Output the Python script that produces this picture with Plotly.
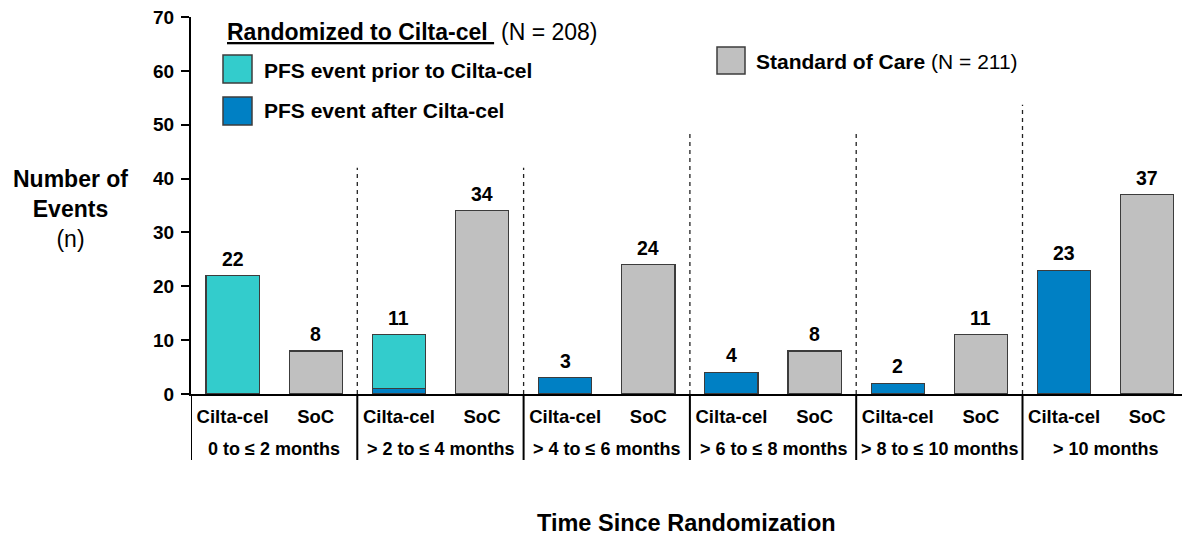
import plotly.graph_objects as go

# ---------------- data ----------------
groups = ["0 to ≤ 2 months", "> 2 to ≤ 4 months", "> 4 to ≤ 6 months",
          "> 6 to ≤ 8 months", "> 8 to ≤ 10 months", "> 10 months"]
arms = ["Cilta-cel", "SoC"]
cilta_prior = [22, 10, 0, 0, 0, 0]    # PFS event prior to Cilta-cel
cilta_after = [0, 1, 3, 4, 2, 23]     # PFS event after Cilta-cel
soc = [8, 34, 24, 8, 11, 37]          # Standard of Care
y_ticks = [0, 10, 20, 30, 40, 50, 60, 70]

# ---------------- style ----------------
TURQ = "#33CCCC"
BLUE = "#0080C4"
GRAY = "#C0C0C0"
EDGE = "#3C3C3C"
FONT = "Liberation Sans, Arial, sans-serif"

W, H = 1182, 540
L, R, T, B = 191, 0, 17, 146
PW, PH = W - L - R, H - T - B


def px(x):
    return (x - L) / PW


def py(y):
    return (H - B - y) / PH


n = len(groups)
cx = [2 * i for i in range(n)]
sx = [2 * i + 1 for i in range(n)]
cilta_total = [a + b for a, b in zip(cilta_prior, cilta_after)]


def nz(xs, vs):
    pairs = [(x, v) for x, v in zip(xs, vs) if v > 0]
    return [p[0] for p in pairs], [p[1] for p in pairs]


fig = go.Figure()
bw = 0.64
x_a, v_a = nz(cx, cilta_after)
fig.add_trace(go.Bar(x=x_a, y=v_a, width=bw, marker=dict(color=BLUE, line=dict(color=EDGE, width=1.2)),
                     name="PFS event after Cilta-cel", showlegend=False))
x_p, v_p = nz(cx, cilta_prior)
fig.add_trace(go.Bar(x=x_p, y=v_p, width=bw, marker=dict(color=TURQ, line=dict(color=EDGE, width=1.2)),
                     name="PFS event prior to Cilta-cel", showlegend=False))
fig.add_trace(go.Bar(x=sx, y=soc, width=bw, marker=dict(color=GRAY, line=dict(color=EDGE, width=1.2)),
                     name="Standard of Care", showlegend=False))

annotations = []
# value labels
for x, v in list(zip(cx, cilta_total)) + list(zip(sx, soc)):
    annotations.append(dict(x=x, y=v, xref="x", yref="y", text=f"<b>{v}</b>", showarrow=False,
                            yanchor="bottom", yshift=4, font=dict(size=19.5, color="black", family=FONT)))

# group labels
for i, g in enumerate(groups):
    annotations.append(dict(x=2 * i + 0.5, y=py(449), xref="x", yref="paper", text=f"<b>{g}</b>",
                            showarrow=False, yanchor="middle", font=dict(size=18, color="black", family=FONT)))

# axis titles
annotations.append(dict(x=0.5, y=py(523), xref="paper", yref="paper", text="<b>Time Since Randomization</b>",
                        showarrow=False, yanchor="middle", font=dict(size=23.5, color="black", family=FONT)))
annotations.append(dict(x=px(70), y=py(209), xref="paper", yref="paper",
                        text="<b>Number of</b><br><b>Events</b><br>(n)", showarrow=False,
                        yanchor="middle", xanchor="center", align="center",
                        font=dict(size=23, color="black", family=FONT)))

# legend
annotations.append(dict(x=px(225), y=py(32), xref="paper", yref="paper", xanchor="left", yanchor="middle",
                        text="<b>Randomized to Cilta-cel </b>", showarrow=False,
                        font=dict(size=23, color="black", family=FONT, lineposition="under")))
annotations.append(dict(x=px(499), y=py(32), xref="paper", yref="paper", xanchor="left", yanchor="middle",
                        text="(N = 208)", showarrow=False, font=dict(size=23, color="black", family=FONT)))
annotations.append(dict(x=px(262), y=py(70), xref="paper", yref="paper", xanchor="left", yanchor="middle",
                        text="<b>PFS event prior to Cilta-cel</b>", showarrow=False,
                        font=dict(size=21, color="black", family=FONT)))
annotations.append(dict(x=px(262), y=py(111), xref="paper", yref="paper", xanchor="left", yanchor="middle",
                        text="<b>PFS event after Cilta-cel</b>", showarrow=False,
                        font=dict(size=21, color="black", family=FONT)))
annotations.append(dict(x=px(754), y=py(61), xref="paper", yref="paper", xanchor="left", yanchor="middle",
                        text="<b>Standard of Care</b> (N = 211)", showarrow=False,
                        font=dict(size=21, color="black", family=FONT)))

shapes = []
for (x0, y0, x1, y1, c) in [(223, 55, 252, 83, TURQ), (223, 97, 252, 125, BLUE), (717, 47, 745, 74, GRAY)]:
    shapes.append(dict(type="rect", xref="paper", yref="paper", x0=px(x0), x1=px(x1), y0=py(y0), y1=py(y1),
                       fillcolor=c, line=dict(color=EDGE, width=1.5)))

# dashed group dividers above axis
div_x = [1.5, 3.5, 5.5, 7.5, 9.5]
div_top = [42, 42, 49, 49, 53.7]
for x, t in zip(div_x, div_top):
    shapes.append(dict(type="line", xref="x", yref="y", x0=x, x1=x, y0=0, y1=t,
                       line=dict(color="#222222", width=1.3, dash="4px,4px")))
# solid dividers below axis
for x in [-0.5] + div_x:
    shapes.append(dict(type="line", xref="x", yref="paper", x0=x, x1=x, y0=0, y1=py(460),
                       line=dict(color="black", width=2)))

fig.update_layout(
    width=W, height=H, margin=dict(l=L, r=R, t=T, b=B),
    paper_bgcolor="white", plot_bgcolor="white", barmode="stack",
    font=dict(family=FONT, color="black"),
    annotations=annotations, shapes=shapes,
    xaxis=dict(range=[-0.5, -0.5 + PW / 83.15], tickvals=cx + sx,
               ticktext=[f"<b>{arms[0]}</b>"] * n + [f"<b>{arms[1]}</b>"] * n,
               tickfont=dict(size=18.5, family=FONT, color="black"), ticks="", ticklabelstandoff=5,
               showline=True, linecolor="black", linewidth=2, showgrid=False, zeroline=False, fixedrange=True),
    yaxis=dict(range=[0, 70], tickvals=y_ticks, ticktext=[f"<b>{t}</b>" for t in y_ticks],
               tickfont=dict(size=19, family=FONT, color="black"), ticks="outside", ticklen=8, tickwidth=2,
               ticklabelstandoff=3,
               tickcolor="black", showline=True, linecolor="black", linewidth=2, showgrid=False,
               zeroline=False, fixedrange=True),
)

fig.write_html("out.html")
